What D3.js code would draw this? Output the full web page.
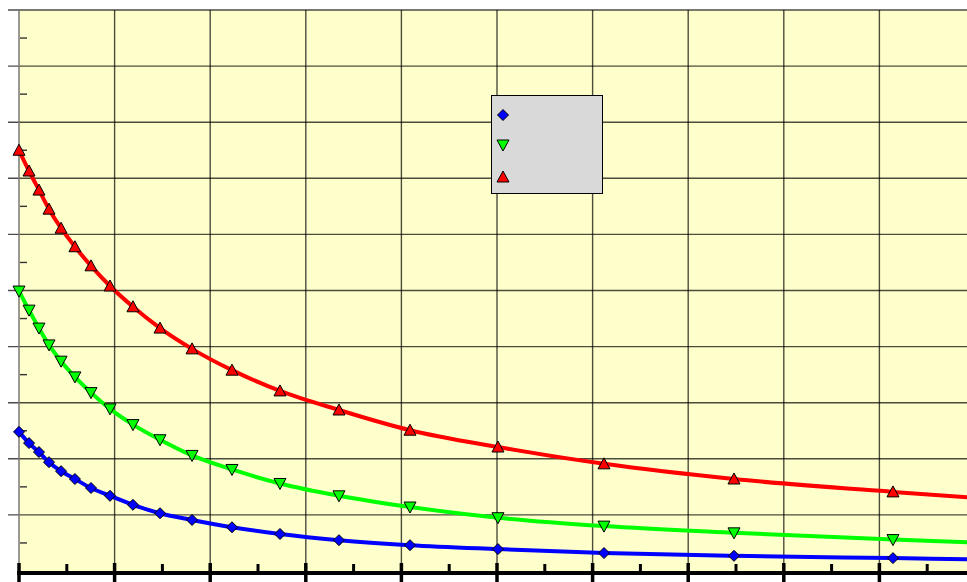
<!DOCTYPE html>
<html><head><meta charset="utf-8">
<script src="https://cdn.jsdelivr.net/npm/d3@7"></script>
<style>html,body{margin:0;padding:0;background:#fff;}svg{display:block;}</style>
</head><body>
<script>
const xValues = [0, 0.105, 0.209, 0.314, 0.44, 0.585, 0.753, 0.952, 1.192, 1.475, 1.81, 2.228, 2.73, 3.347, 4.09, 5.01, 6.119, 7.479, 9.142];
const blueValues = [2.48, 2.28, 2.12, 1.94, 1.78, 1.64, 1.48, 1.34, 1.18, 1.03, 0.91, 0.78, 0.66, 0.55, 0.46, 0.39, 0.32, 0.27, 0.23];
const greenValues = [4.99, 4.65, 4.33, 4.03, 3.74, 3.46, 3.18, 2.89, 2.61, 2.34, 2.06, 1.81, 1.56, 1.34, 1.14, 0.95, 0.80, 0.68, 0.56];
const redValues = [7.50, 7.13, 6.79, 6.45, 6.11, 5.78, 5.44, 5.08, 4.71, 4.33, 3.96, 3.58, 3.21, 2.87, 2.51, 2.21, 1.91, 1.64, 1.41];
const lineEndX = 9.95;
const lineEndValues = {blue: 0.21, green: 0.51, red: 1.31};
const xTicks = d3.range(0, 10.01, 1);
const yTicks = d3.range(0, 10.01, 1);

const W = 967, H = 582;
const x = d3.scaleLinear().domain([0, 10]).range([19, 975]);
const y = d3.scaleLinear().domain([0, 10]).range([571, 10]);

const svg = d3.select("body").append("svg").attr("width", W).attr("height", H);
svg.append("rect").attr("x", x(0)).attr("y", y(10)).attr("width", W - x(0)).attr("height", y(0) - y(10)).attr("fill", "#ffffcc");

svg.append("defs").append("clipPath").attr("id", "clip")
  .append("rect").attr("x", x(0)).attr("y", y(10)).attr("width", W - x(0)).attr("height", y(0) - y(10) + 2);

// gridlines
const grid = svg.append("g").attr("stroke", "#000").attr("stroke-opacity", 0.7).attr("stroke-width", 1.4);
grid.selectAll(".h").data(yTicks.filter(d => d > 0)).join("line")
  .attr("x1", 8).attr("x2", W).attr("y1", d => y(d)).attr("y2", d => y(d));
grid.selectAll(".v").data(xTicks.filter(d => d > 0)).join("line")
  .attr("x1", d => x(d)).attr("x2", d => x(d)).attr("y1", y(10)).attr("y2", y(0));

// y axis
svg.append("line").attr("x1", x(0)).attr("x2", x(0)).attr("y1", y(10)).attr("y2", y(0))
  .attr("stroke", "#777").attr("stroke-width", 1.5);
svg.append("g").selectAll("line").data(d3.range(0.5, 10, 1)).join("line")
  .attr("x1", 20).attr("x2", 27).attr("y1", d => y(d)).attr("y2", d => y(d))
  .attr("stroke", "#333").attr("stroke-width", 1.4);

// series
const series = [
  {key: "blue", color: "#0000ff", values: blueValues, marker: "diamond"},
  {key: "green", color: "#00ff00", values: greenValues, marker: "down"},
  {key: "red", color: "#ff0000", values: redValues, marker: "up"}
];
const line = d3.line().x(d => x(d[0])).y(d => y(d[1])).curve(d3.curveMonotoneX);
const plot = svg.append("g").attr("clip-path", "url(#clip)");
series.forEach(s => {
  const pts = xValues.map((xv, i) => [xv, s.values[i]]);
  pts.push([lineEndX, lineEndValues[s.key]]);
  plot.append("path").datum(pts).attr("d", line).attr("fill", "none")
    .attr("stroke", s.color).attr("stroke-width", 4);
});
function markerPath(type) {
  if (type === "diamond") return "M0,-5.5L5.5,0L0,5.5L-5.5,0Z";
  if (type === "down") return "M-6,-5L6,-5L0,6Z";
  return "M-6,5L6,5L0,-6Z";
}
series.forEach(s => {
  svg.append("g").selectAll("path").data(xValues.map((xv, i) => [xv, s.values[i]])).join("path")
    .attr("d", markerPath(s.marker))
    .attr("transform", d => `translate(${x(d[0])},${y(d[1])})`)
    .attr("fill", s.color).attr("stroke", "#000").attr("stroke-width", 1);
});

// x axis
svg.append("line").attr("x1", x(0) - 2).attr("x2", W).attr("y1", 573).attr("y2", 573)
  .attr("stroke", "#000").attr("stroke-width", 4);
svg.append("g").selectAll("line").data(xTicks).join("line")
  .attr("x1", d => x(d)).attr("x2", d => x(d)).attr("y1", 563).attr("y2", 582)
  .attr("stroke", "#000").attr("stroke-width", 3.5);
svg.append("g").selectAll("line").data(d3.range(0.5, 10, 1)).join("line")
  .attr("x1", d => x(d)).attr("x2", d => x(d)).attr("y1", 564).attr("y2", 573)
  .attr("stroke", "#000").attr("stroke-width", 3);

// legend
const lg = svg.append("g");
lg.append("rect").attr("x", 491.5).attr("y", 95.5).attr("width", 111).attr("height", 98)
  .attr("fill", "#d9d9d9").attr("stroke", "#000").attr("stroke-width", 1);
series.forEach((s, i) => {
  lg.append("path").attr("d", markerPath(s.marker))
    .attr("transform", `translate(503,${[115, 145, 177][i]})`)
    .attr("fill", s.color).attr("stroke", "#000").attr("stroke-width", 1);
});
</script>
</body></html>
